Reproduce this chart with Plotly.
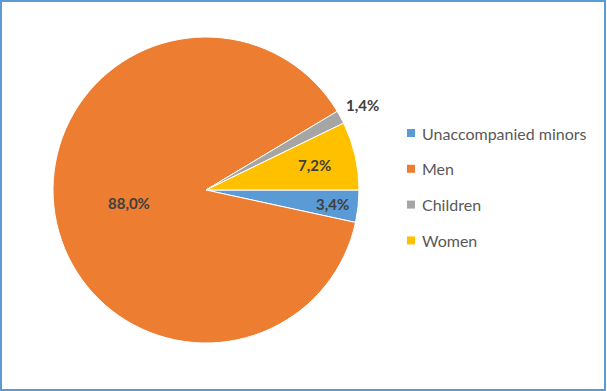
import math
import plotly.graph_objects as go

W, H = 607, 391

# ---- data ----
categories = ["Unaccompanied minors", "Men", "Children", "Women"]
shares = [3.4, 88.0, 1.4, 7.2]  # percent

# ---- style ----
colors = ["#5B9BD5", "#ED7D31", "#A5A5A5", "#FFC000"]
label_radius = [0.83, 0.51, 1.16, 0.725]  # label distance as fraction of radius

# pie placement (pixels)
px_left, px_right, px_top, px_bottom = 53, 359, 37, 343
cx = (px_left + px_right) / 2
cy = (px_top + px_bottom) / 2
R = (px_right - px_left) / 2

fig = go.Figure(go.Pie(
    labels=categories,
    values=shares,
    sort=False,
    direction="clockwise",
    rotation=90,
    marker=dict(colors=colors, line=dict(color="white", width=1)),
    textposition="none",
    hoverinfo="label+percent",
    showlegend=False,
    domain=dict(x=[px_left / W, px_right / W], y=[1 - px_bottom / H, 1 - px_top / H]),
))

# data labels placed along each slice's mid-angle
total = sum(shares)
cum = 0.0
annotations = []
for cat, v, f in zip(categories, shares, label_radius):
    mid = (cum + v / 2) / total * 2 * math.pi  # clockwise from 3 o'clock
    cum += v
    lx = cx + f * R * math.cos(mid)
    ly = cy + f * R * math.sin(mid)
    annotations.append(dict(
        x=lx / W, y=1 - ly / H, xref="paper", yref="paper",
        text=f"<b>{v:.1f}%</b>".replace(".", ","), showarrow=False,
        font=dict(family="Lato, Open Sans, sans-serif", size=15, color="#404040"),
        xanchor="center", yanchor="middle",
    ))

# custom legend
shapes = []
leg_x, leg_y0, leg_dy, sq = 407, 133, 35.8, 8
for i, (cat, col) in enumerate(zip(categories, colors)):
    y = leg_y0 + i * leg_dy
    shapes.append(dict(type="rect", xref="paper", yref="paper",
                       x0=leg_x / W, x1=(leg_x + sq) / W,
                       y0=1 - (y + sq / 2) / H, y1=1 - (y - sq / 2) / H,
                       fillcolor=col, line=dict(width=0)))
    annotations.append(dict(
        x=(leg_x + sq + 5) / W, y=1 - y / H, xref="paper", yref="paper",
        text=cat, showarrow=False, xanchor="left", yanchor="middle",
        font=dict(family="Lato, Open Sans, sans-serif", size=16, color="#595959"),
    ))

# chart border
shapes.append(dict(type="rect", xref="paper", yref="paper",
                   x0=1 / W, x1=605 / W, y0=1 - 390 / H, y1=1 - 1 / H,
                   line=dict(color="#5B9BD5", width=2), fillcolor="rgba(0,0,0,0)"))

fig.update_layout(
    width=W, height=H,
    margin=dict(l=0, r=0, t=0, b=0),
    paper_bgcolor="white",
    annotations=annotations,
    shapes=shapes,
)

fig.write_html("out.html",
               config={"displayModeBar": False},
               post_script="document.body.style.margin='0';document.body.style.overflow='hidden';")
